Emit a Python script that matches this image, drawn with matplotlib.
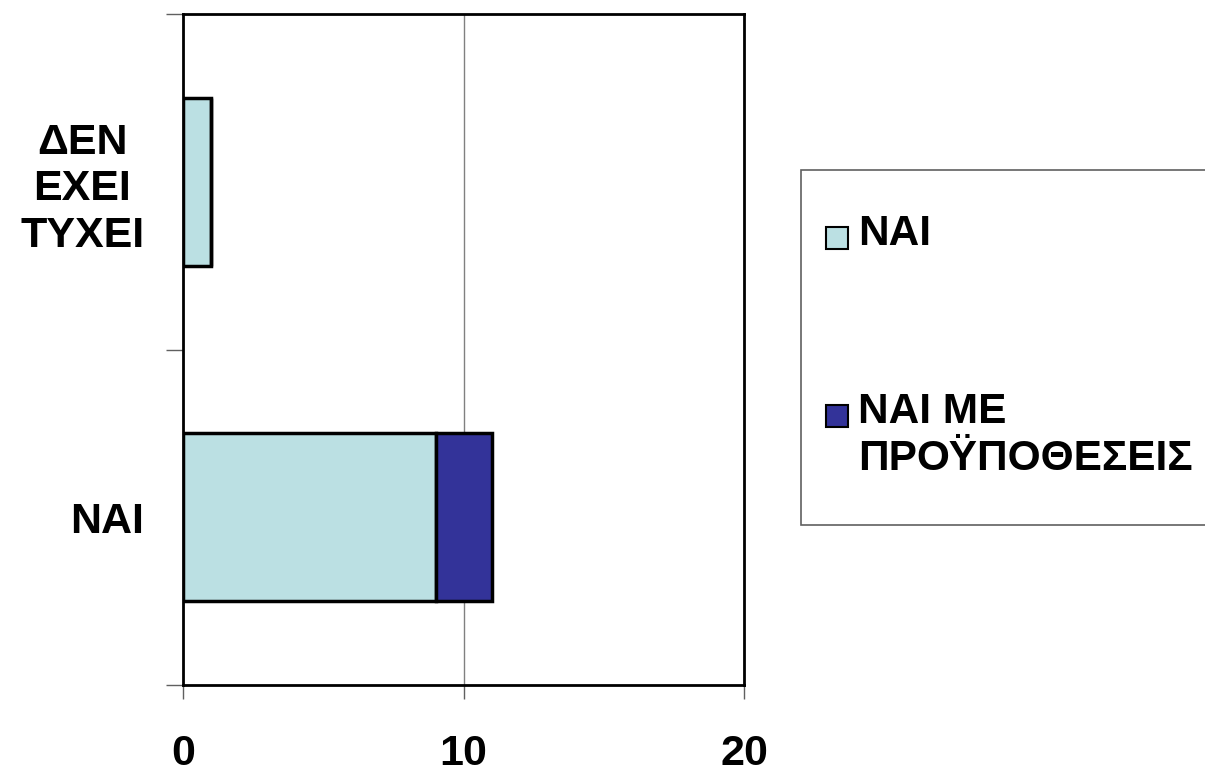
import matplotlib
matplotlib.use("Agg")
import matplotlib.pyplot as plt
import matplotlib.patches as patches

plt.rcParams['font.family'] = ['Liberation Sans', 'DejaVu Sans']
plt.rcParams['font.weight'] = 'bold'

# δεδομένα
categories = ['ΝΑΙ', 'ΔΕΝ\nΕΧΕΙ\nΤΥΧΕΙ']
series_names = ['ΝΑΙ', 'ΝΑΙ ΜΕ\nΠΡΟΫΠΟΘΕΣΕΙΣ']
series_values = [[9, 1], [2, 0]]
series_colors = ['#BBE0E3', '#333399']
x_ticks = [0, 10, 20]

fig = plt.figure(figsize=(12.05, 7.73), dpi=100)
ax = fig.add_axes([0.1519, 0.1138, 0.4656, 0.8681])

# στοιβαγμένες οριζόντιες μπάρες
left = [0] * len(categories)
for vals, color in zip(series_values, series_colors):
    ypos = list(range(len(categories)))
    ax.barh(ypos, vals, left=left, height=0.5, color=color,
            edgecolor='black', linewidth=2.5, zorder=3)
    left = [a + b for a, b in zip(left, vals)]

ax.set_xlim(0, 20)
ax.set_ylim(-0.5, len(categories) - 0.5)

ax.set_xticks(x_ticks)
ax.set_xticklabels([str(t) for t in x_ticks], fontsize=31, fontweight='bold')
ax.tick_params(axis='x', direction='out', length=10, width=1, color='#606060', pad=25)

ax.set_yticks(range(len(categories)))
ax.set_yticklabels(categories, fontsize=31, fontweight='bold', multialignment='center')
ax.tick_params(axis='y', which='major', length=0, pad=28)
ax.set_yticks([-0.5, 0.5, 1.5], minor=True)
ax.tick_params(axis='y', which='minor', direction='out', length=12, width=1, color='#606060')

ax.xaxis.grid(True, color='#808080', linewidth=1, zorder=0)
for s in ax.spines.values():
    s.set_linewidth(2)
    s.set_color('black')

# υπόμνημα
fig.patches.append(patches.Rectangle((801 / 1205, 1 - 525 / 773), 420 / 1205, 355 / 773,
                                     transform=fig.transFigure, facecolor='white',
                                     edgecolor='#606060', linewidth=1.2))
entry_y = [238, 416]
for name, color, yy in zip(series_names, series_colors, entry_y):
    fig.patches.append(patches.Rectangle((826 / 1205, 1 - (yy + 11) / 773), 22 / 1205, 22 / 773,
                                         transform=fig.transFigure, facecolor=color,
                                         edgecolor='black', linewidth=1.5))
    fig.text(858 / 1205, 1 - (yy - 24) / 773, name, fontsize=30.5, fontweight='bold',
             ha='left', va='top', linespacing=1.22)

fig.savefig('out.png', dpi=100)
